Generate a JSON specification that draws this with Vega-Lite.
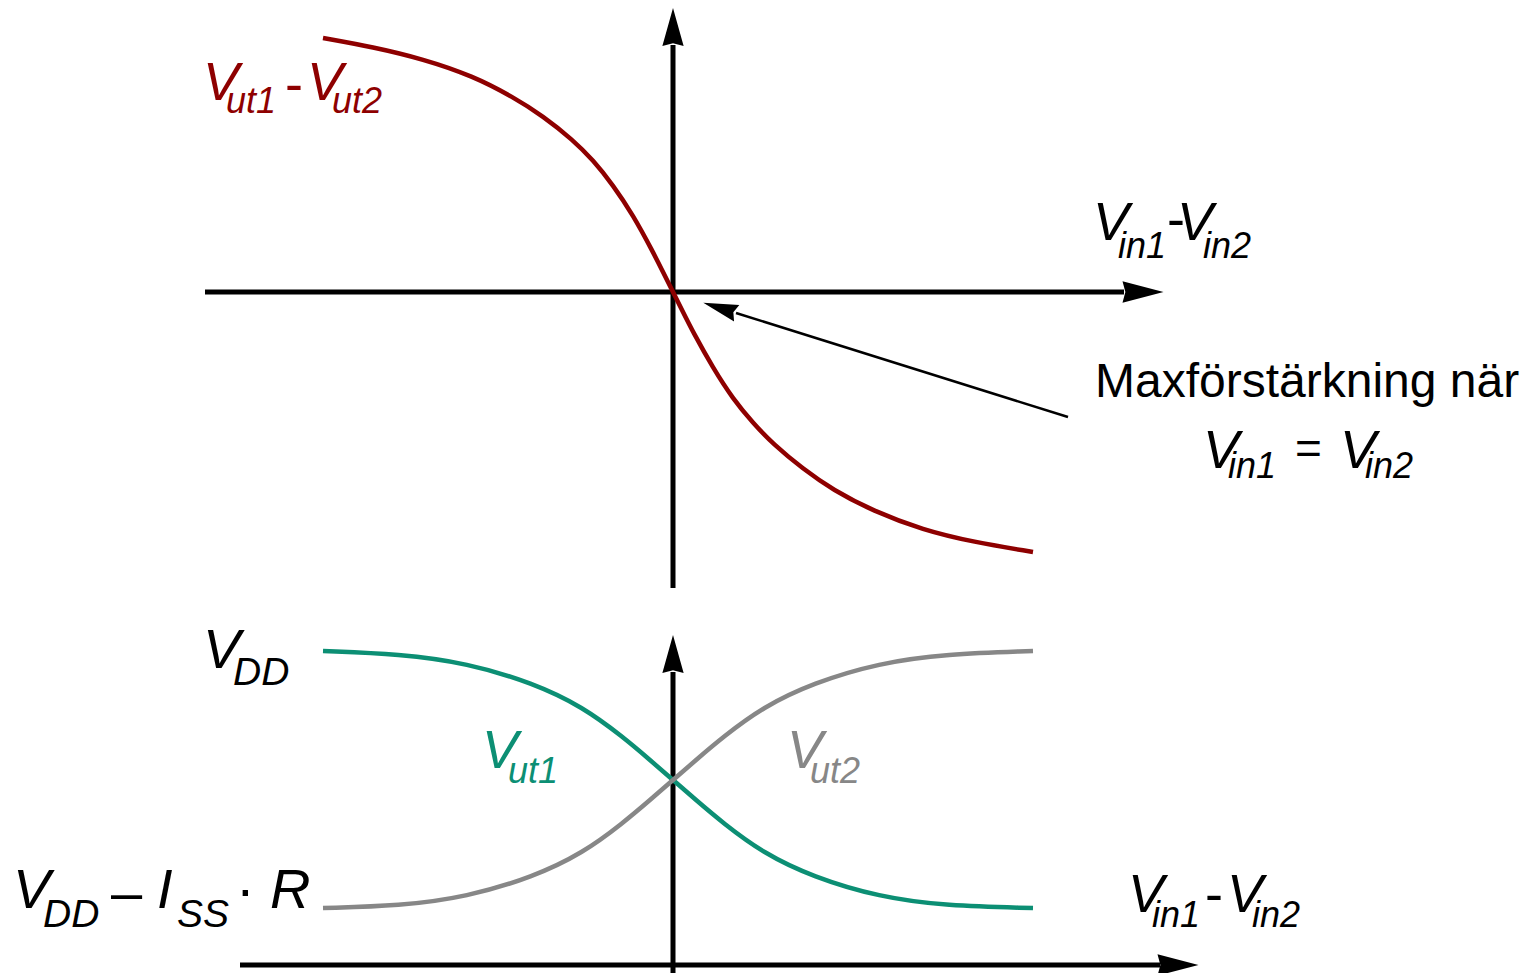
{
  "$schema": "https://vega.github.io/schema/vega-lite/v6.json",
  "width": 1531,
  "height": 973,
  "autosize": "none",
  "padding": 0,
  "background": "white",
  "config": {"view": {"stroke": null}},
  "datasets": {
    "curves": [
      {"series": "Vut1-Vut2", "x": 323, "y": 38},
      {"series": "Vut1-Vut2", "x": 373, "y": 47},
      {"series": "Vut1-Vut2", "x": 423, "y": 59},
      {"series": "Vut1-Vut2", "x": 473, "y": 76},
      {"series": "Vut1-Vut2", "x": 513, "y": 97},
      {"series": "Vut1-Vut2", "x": 543, "y": 116},
      {"series": "Vut1-Vut2", "x": 573, "y": 140},
      {"series": "Vut1-Vut2", "x": 593, "y": 160},
      {"series": "Vut1-Vut2", "x": 613, "y": 185},
      {"series": "Vut1-Vut2", "x": 633, "y": 215},
      {"series": "Vut1-Vut2", "x": 653, "y": 252},
      {"series": "Vut1-Vut2", "x": 663, "y": 272},
      {"series": "Vut1-Vut2", "x": 673, "y": 292},
      {"series": "Vut1-Vut2", "x": 683, "y": 312},
      {"series": "Vut1-Vut2", "x": 693, "y": 332},
      {"series": "Vut1-Vut2", "x": 713, "y": 368},
      {"series": "Vut1-Vut2", "x": 733, "y": 399},
      {"series": "Vut1-Vut2", "x": 753, "y": 423},
      {"series": "Vut1-Vut2", "x": 773, "y": 444},
      {"series": "Vut1-Vut2", "x": 803, "y": 469},
      {"series": "Vut1-Vut2", "x": 833, "y": 490},
      {"series": "Vut1-Vut2", "x": 873, "y": 511},
      {"series": "Vut1-Vut2", "x": 923, "y": 530},
      {"series": "Vut1-Vut2", "x": 973, "y": 542},
      {"series": "Vut1-Vut2", "x": 1033, "y": 552},
      {"series": "Vut1", "x": 323, "y": 651},
      {"series": "Vut1", "x": 400, "y": 654},
      {"series": "Vut1", "x": 467, "y": 663},
      {"series": "Vut1", "x": 533, "y": 683},
      {"series": "Vut1", "x": 583, "y": 707},
      {"series": "Vut1", "x": 623, "y": 737},
      {"series": "Vut1", "x": 650, "y": 760},
      {"series": "Vut1", "x": 673, "y": 780},
      {"series": "Vut1", "x": 696, "y": 800},
      {"series": "Vut1", "x": 723, "y": 823},
      {"series": "Vut1", "x": 763, "y": 853},
      {"series": "Vut1", "x": 813, "y": 877},
      {"series": "Vut1", "x": 879, "y": 897},
      {"series": "Vut1", "x": 946, "y": 906},
      {"series": "Vut1", "x": 1033, "y": 908},
      {"series": "Vut2", "x": 323, "y": 908},
      {"series": "Vut2", "x": 400, "y": 906},
      {"series": "Vut2", "x": 467, "y": 897},
      {"series": "Vut2", "x": 533, "y": 877},
      {"series": "Vut2", "x": 583, "y": 853},
      {"series": "Vut2", "x": 623, "y": 823},
      {"series": "Vut2", "x": 650, "y": 800},
      {"series": "Vut2", "x": 673, "y": 780},
      {"series": "Vut2", "x": 696, "y": 760},
      {"series": "Vut2", "x": 723, "y": 737},
      {"series": "Vut2", "x": 763, "y": 707},
      {"series": "Vut2", "x": 813, "y": 683},
      {"series": "Vut2", "x": 879, "y": 663},
      {"series": "Vut2", "x": 946, "y": 654},
      {"series": "Vut2", "x": 1033, "y": 651}
    ],
    "axes": [
      {"name": "top horizontal", "x": 205, "y": 292, "x2": 1124, "y2": 292},
      {"name": "top vertical", "x": 673, "y": 45, "x2": 673, "y2": 588},
      {"name": "bottom horizontal", "x": 240, "y": 965, "x2": 1160, "y2": 965},
      {"name": "bottom vertical", "x": 673, "y": 672, "x2": 673, "y2": 973}
    ],
    "arrowsUp": [
      {"name": "top vertical", "x": 673, "y": 27},
      {"name": "bottom vertical", "x": 673, "y": 654}
    ],
    "arrowsRight": [
      {"name": "top horizontal", "x": 1143, "y": 292},
      {"name": "bottom horizontal", "x": 1178, "y": 965}
    ],
    "pointer": [
      {"name": "annotation", "x": 736, "y": 313, "x2": 1068, "y2": 417}
    ],
    "pointerHead": [
      {"name": "annotation", "x": 720, "y": 308}
    ],
    "mainV": [
      {"series": "Vut1-Vut2", "label": "V", "x": 203, "y": 100},
      {"series": "Vut1-Vut2", "label": "V", "x": 307, "y": 100},
      {"series": "axis", "label": "V", "x": 1093, "y": 240},
      {"series": "axis", "label": "V", "x": 1177, "y": 240},
      {"series": "axis", "label": "V", "x": 1203, "y": 468},
      {"series": "axis", "label": "V", "x": 1340, "y": 468},
      {"series": "Vut1", "label": "V", "x": 482, "y": 768},
      {"series": "Vut2", "label": "V", "x": 787, "y": 768},
      {"series": "axis", "label": "V", "x": 1128, "y": 912},
      {"series": "axis", "label": "V", "x": 1227, "y": 912}
    ],
    "subs": [
      {"series": "Vut1-Vut2", "label": "ut1", "x": 226, "y": 113},
      {"series": "Vut1-Vut2", "label": "ut2", "x": 332, "y": 113},
      {"series": "axis", "label": "in1", "x": 1118, "y": 258},
      {"series": "axis", "label": "in2", "x": 1203, "y": 258},
      {"series": "axis", "label": "in1", "x": 1228, "y": 478},
      {"series": "axis", "label": "in2", "x": 1365, "y": 478},
      {"series": "Vut1", "label": "ut1", "x": 508, "y": 783},
      {"series": "Vut2", "label": "ut2", "x": 810, "y": 783},
      {"series": "axis", "label": "in1", "x": 1152, "y": 927},
      {"series": "axis", "label": "in2", "x": 1252, "y": 927}
    ],
    "dashes": [
      {"series": "Vut1-Vut2", "label": "-", "x": 285, "y": 102},
      {"series": "axis", "label": "-", "x": 1167, "y": 237},
      {"series": "axis", "label": "-", "x": 1205, "y": 912}
    ],
    "caption": [
      {"series": "axis", "label": "Maxförstärkning när", "x": 1095, "y": 397}
    ],
    "equals": [
      {"series": "axis", "label": "=", "x": 1295, "y": 464}
    ],
    "supplyBig": [
      {"series": "axis", "label": "V", "x": 203, "y": 668},
      {"series": "axis", "label": "V", "x": 13, "y": 908},
      {"series": "axis", "label": "I", "x": 157, "y": 908},
      {"series": "axis", "label": "R", "x": 270, "y": 908}
    ],
    "supplySmall": [
      {"series": "axis", "label": "DD", "x": 233, "y": 685},
      {"series": "axis", "label": "DD", "x": 43, "y": 927},
      {"series": "axis", "label": "SS", "x": 177, "y": 927}
    ],
    "supplyOps": [
      {"series": "axis", "label": "–", "x": 111, "y": 911},
      {"series": "axis", "label": "·", "x": 236, "y": 908}
    ]
  },
  "encoding": {
    "x": {"field": "x", "type": "quantitative", "scale": {"domain": [0, 1531], "nice": false, "zero": false}, "axis": null},
    "y": {"field": "y", "type": "quantitative", "scale": {"domain": [0, 973], "nice": false, "zero": false, "reverse": true}, "axis": null}
  },
  "layer": [
    {
      "data": {"name": "axes"},
      "mark": {"type": "rule", "strokeWidth": 5, "color": "black", "strokeCap": "butt"},
      "encoding": {"x2": {"field": "x2"}, "y2": {"field": "y2"}}
    },
    {
      "data": {"name": "arrowsUp"},
      "mark": {"type": "point", "shape": "M0,-1L0.56,1L0,0.86L-0.56,1Z", "size": 1444, "filled": true, "color": "black", "opacity": 1, "strokeWidth": 0, "angle": 0},
      "encoding": {}
    },
    {
      "data": {"name": "arrowsRight"},
      "mark": {"type": "point", "shape": "M0,-1L0.52,1L0,0.86L-0.52,1Z", "size": 1681, "filled": true, "color": "black", "opacity": 1, "strokeWidth": 0, "angle": 90},
      "encoding": {}
    },
    {
      "data": {"name": "pointer"},
      "mark": {"type": "rule", "strokeWidth": 2.5, "color": "black"},
      "encoding": {"x2": {"field": "x2"}, "y2": {"field": "y2"}}
    },
    {
      "data": {"name": "pointerHead"},
      "mark": {"type": "point", "shape": "M0,-1L0.5,1L0,0.8L-0.5,1Z", "size": 1225, "filled": true, "color": "black", "opacity": 1, "strokeWidth": 0, "angle": 287.4},
      "encoding": {}
    },
    {
      "data": {"name": "curves"},
      "mark": {"type": "line", "strokeWidth": 4.5, "interpolate": "basis"},
      "encoding": {
        "detail": {"field": "series"},
        "color": {"field": "series", "type": "nominal", "scale": {"domain": ["Vut1-Vut2", "Vut1", "Vut2", "axis"], "range": ["#8e0000", "#0c8f74", "#878787", "#000000"]}, "legend": null}
      }
    },
    {
      "data": {"name": "mainV"},
      "mark": {"type": "text", "align": "left", "baseline": "alphabetic", "font": "Liberation Sans", "fontStyle": "italic", "fontSize": 54},
      "encoding": {
        "text": {"field": "label"},
        "color": {"field": "series", "type": "nominal", "scale": {"domain": ["Vut1-Vut2", "Vut1", "Vut2", "axis"], "range": ["#8e0000", "#0c8f74", "#878787", "#000000"]}, "legend": null}
      }
    },
    {
      "data": {"name": "subs"},
      "mark": {"type": "text", "align": "left", "baseline": "alphabetic", "font": "Liberation Sans", "fontStyle": "italic", "fontSize": 36},
      "encoding": {
        "text": {"field": "label"},
        "color": {"field": "series", "type": "nominal", "scale": {"domain": ["Vut1-Vut2", "Vut1", "Vut2", "axis"], "range": ["#8e0000", "#0c8f74", "#878787", "#000000"]}, "legend": null}
      }
    },
    {
      "data": {"name": "dashes"},
      "mark": {"type": "text", "align": "left", "baseline": "alphabetic", "font": "Liberation Sans", "fontSize": 54},
      "encoding": {
        "text": {"field": "label"},
        "color": {"field": "series", "type": "nominal", "scale": {"domain": ["Vut1-Vut2", "Vut1", "Vut2", "axis"], "range": ["#8e0000", "#0c8f74", "#878787", "#000000"]}, "legend": null}
      }
    },
    {
      "data": {"name": "caption"},
      "mark": {"type": "text", "align": "left", "baseline": "alphabetic", "font": "Liberation Sans", "fontSize": 48, "color": "black"},
      "encoding": {"text": {"field": "label"}}
    },
    {
      "data": {"name": "equals"},
      "mark": {"type": "text", "align": "left", "baseline": "alphabetic", "font": "Liberation Sans", "fontSize": 46, "color": "black"},
      "encoding": {"text": {"field": "label"}}
    },
    {
      "data": {"name": "supplyBig"},
      "mark": {"type": "text", "align": "left", "baseline": "alphabetic", "font": "Liberation Sans", "fontStyle": "italic", "fontSize": 56, "color": "black"},
      "encoding": {"text": {"field": "label"}}
    },
    {
      "data": {"name": "supplySmall"},
      "mark": {"type": "text", "align": "left", "baseline": "alphabetic", "font": "Liberation Sans", "fontStyle": "italic", "fontSize": 39, "color": "black"},
      "encoding": {"text": {"field": "label"}}
    },
    {
      "data": {"name": "supplyOps"},
      "mark": {"type": "text", "align": "left", "baseline": "alphabetic", "font": "Liberation Sans", "fontSize": 56, "color": "black"},
      "encoding": {"text": {"field": "label"}}
    }
  ]
}
